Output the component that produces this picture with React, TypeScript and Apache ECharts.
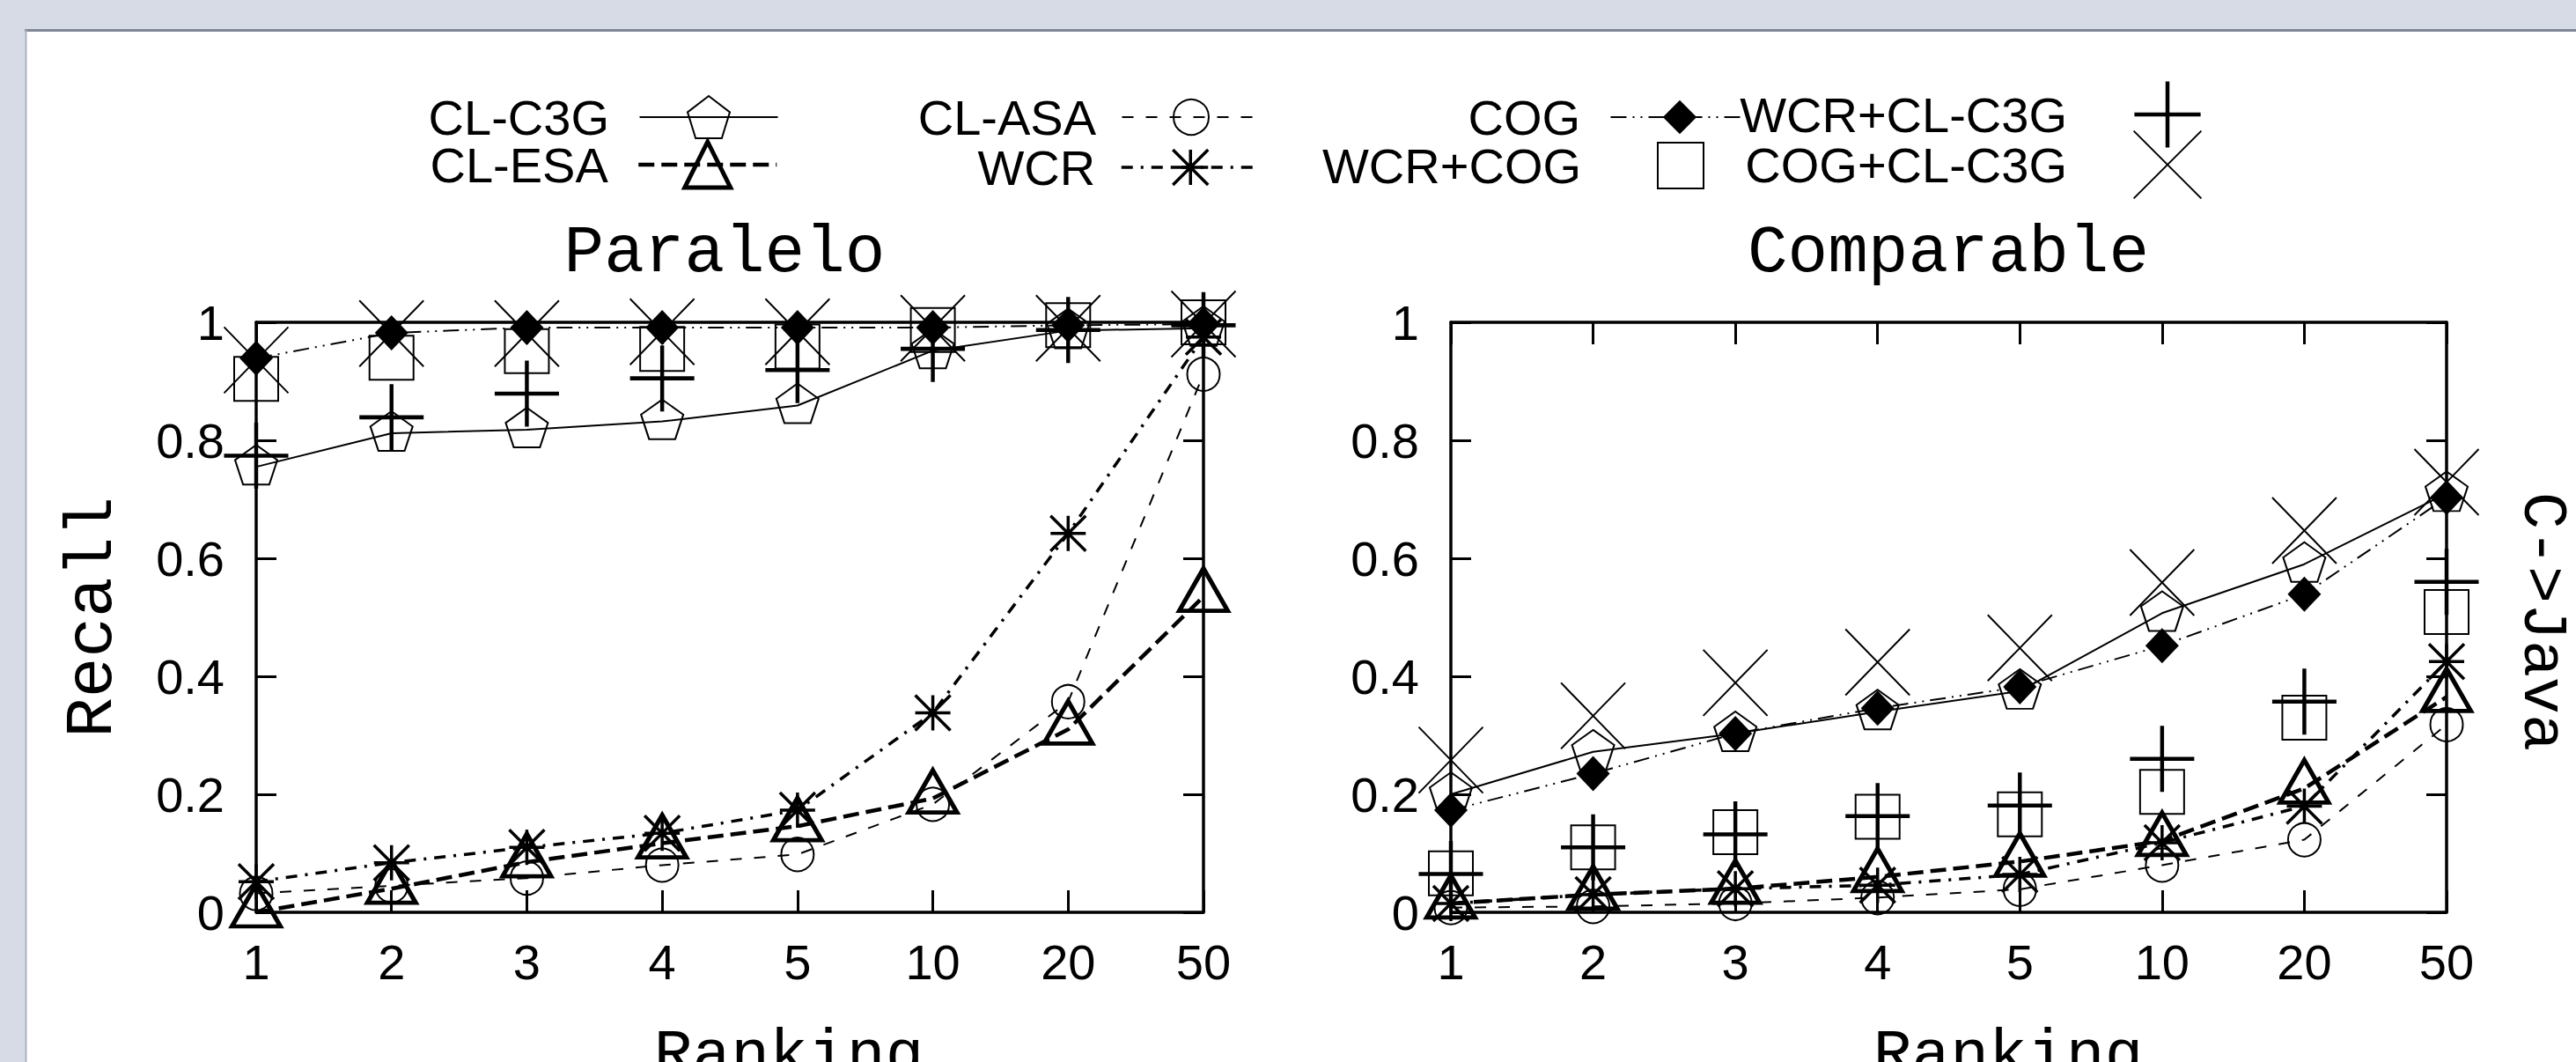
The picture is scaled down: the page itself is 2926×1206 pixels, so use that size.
import React, { useEffect, useRef } from "react";
import * as echarts from "echarts";

// ---------------- data ----------------
const categories = ["1", "2", "3", "4", "5", "10", "20", "50"];
const seriesNames = ["CL-C3G", "CL-ESA", "CL-ASA", "WCR", "COG", "WCR+COG", "WCR+CL-C3G", "COG+CL-C3G"];
const panelTitles = ["Paralelo", "Comparable"];
const xAxisTitle = "Ranking";
const yAxisTitle = "Recall";
const sideTitle = "C->Java";

// Paralelo
const paraleloCLC3G = [0.755, 0.812, 0.818, 0.832, 0.859, 0.952, 0.986, 0.99];
const paraleloCLESA = [0.0, 0.04, 0.085, 0.117, 0.146, 0.193, 0.31, 0.535];
const paraleloCLASA = [0.032, 0.045, 0.058, 0.08, 0.098, 0.183, 0.357, 0.912];
const paraleloWCR = [0.052, 0.084, 0.11, 0.134, 0.173, 0.338, 0.642, 0.975];
const paraleloCOG = [0.939, 0.982, 0.991, 0.991, 0.991, 0.991, 0.995, 0.997];
const paraleloWCRCOG = [0.904, 0.94, 0.951, 0.955, 0.959, 0.987, 0.995, 1.0];
const paraleloWCRCLC3G = [0.774, 0.839, 0.879, 0.905, 0.919, 0.955, 0.987, 0.995];
const paraleloCOGCLC3G = [0.936, 0.981, 0.981, 0.984, 0.984, 0.99, 0.99, 0.997];

// Comparable
const comparableCLC3G = [0.2, 0.272, 0.303, 0.34, 0.375, 0.507, 0.59, 0.71];
const comparableCLESA = [0.015, 0.03, 0.04, 0.06, 0.086, 0.121, 0.21, 0.365];
const comparableCLASA = [0.008, 0.01, 0.015, 0.025, 0.039, 0.08, 0.123, 0.318];
const comparableWCR = [0.015, 0.03, 0.04, 0.046, 0.064, 0.118, 0.18, 0.425];
const comparableCOG = [0.173, 0.235, 0.303, 0.346, 0.382, 0.452, 0.539, 0.703];
const comparableWCRCOG = [0.066, 0.11, 0.136, 0.162, 0.166, 0.204, 0.33, 0.509];
const comparableWCRCLC3G = [0.065, 0.11, 0.132, 0.163, 0.181, 0.26, 0.357, 0.56];
const comparableCOGCLC3G = [0.258, 0.333, 0.389, 0.424, 0.448, 0.559, 0.647, 0.729];

const paraleloValues = [paraleloCLC3G, paraleloCLESA, paraleloCLASA, paraleloWCR, paraleloCOG, paraleloWCRCOG, paraleloWCRCLC3G, paraleloCOGCLC3G];
const comparableValues = [comparableCLC3G, comparableCLESA, comparableCLASA, comparableWCR, comparableCOG, comparableWCRCOG, comparableWCRCLC3G, comparableCOGCLC3G];

// ---------------- styles / layout ----------------
const W = 2926;
const H = 1206;
const SANS = "'Liberation Sans', Arial, Helvetica, sans-serif";
const MONO = "'Liberation Mono', 'Courier New', monospace";
const CLEAR = "rgba(0,0,0,0)";

const PENTAGON = "path://M0,-100L95.1,-30.9L58.8,80.9L-58.8,80.9L-95.1,-30.9Z";
const TRIANGLE = "path://M0,-200L173,100L-173,100Z";
const PLUS = "path://M0,-1L0,1M-1,0L1,0";
const CROSS = "path://M-1,-1L1,1M-1,1L1,-1";
const STAR = "path://M0,-1L0,1M-1,0L1,0M-1,-1L1,1M-1,1L1,-1";

type Sty = {
  symbol: string;
  size: number[];
  offset: number[];
  fill: string;
  bw: number;
  lw: number;
  dash: any;
  legendH: number;
};

const styles: Sty[] = [
  { symbol: PENTAGON, size: [48, 45], offset: [0, -2.4], fill: CLEAR, bw: 2, lw: 2, dash: "solid", legendH: 60 },
  { symbol: TRIANGLE, size: [55, 48], offset: [0, -8], fill: CLEAR, bw: 5, lw: 4.5, dash: [18, 8], legendH: 65 },
  { symbol: "circle", size: [37, 38], offset: [0, 0], fill: CLEAR, bw: 2, lw: 2, dash: [13, 14], legendH: 50 },
  { symbol: STAR, size: [40, 40], offset: [0, 0], fill: CLEAR, bw: 3.5, lw: 3.5, dash: [13, 9, 3, 9], legendH: 50 },
  { symbol: "diamond", size: [38, 40], offset: [0, 0], fill: "#000", bw: 0, lw: 2, dash: [18, 7, 2, 7, 2, 7], legendH: 48 },
  { symbol: "rect", size: [50, 50], offset: [0, 0], fill: CLEAR, bw: 2, lw: 0, dash: "solid", legendH: 65 },
  { symbol: PLUS, size: [73, 75], offset: [0, 0], fill: CLEAR, bw: 4.5, lw: 0, dash: "solid", legendH: 94 },
  { symbol: CROSS, size: [73, 75], offset: [0, 0], fill: CLEAR, bw: 2, lw: 0, dash: "solid", legendH: 96 },
];

const legendCols = [
  { textEnd: 693, markerX: 806 },
  { textEnd: 1246, markerX: 1354 },
  { textEnd: 1796, markerX: 1909 },
  { textEnd: 2348, markerX: 2462 },
];
const legendRows = [130, 187];
const legendSlot = [[0, 0], [0, 1], [1, 0], [1, 1], [2, 0], [2, 1], [3, 0], [3, 1]];
const SAMPLE_W = 157;
const FONT = 56;
const LEGEND_LH = 50;

const grids = [
  { left: 291, top: 366, width: 1076, height: 670 },
  { left: 1648, top: 366, width: 1131, height: 670 },
];

function buildOption() {
  const xAxis: any[] = [];
  const yAxis: any[] = [];
  const axisLine = { show: true, onZero: false, lineStyle: { color: "#000", width: 3.5 } };
  grids.forEach((g, gi) => {
    ["bottom", "top"].forEach((pos) => {
      xAxis.push({
        type: "category",
        gridIndex: gi,
        data: categories,
        boundaryGap: false,
        position: pos,
        axisLine,
        axisTick: { show: true, inside: true, length: 25, interval: 0, lineStyle: { color: "#000", width: 3 } },
        axisLabel: { show: pos === "bottom", interval: 0, margin: 28, fontSize: FONT, fontFamily: SANS, color: "#000" },
        splitLine: { show: false },
      });
    });
    ["left", "right"].forEach((pos) => {
      yAxis.push({
        type: "value",
        gridIndex: gi,
        min: 0,
        max: 1,
        interval: 0.2,
        position: pos,
        axisLine,
        axisTick: { show: true, inside: true, length: 23, lineStyle: { color: "#000", width: 3 } },
        axisLabel: { show: pos === "left", margin: 36, fontSize: FONT, fontFamily: SANS, color: "#000" },
        splitLine: { show: false },
      });
    });
  });

  const series: any[] = [];
  [paraleloValues, comparableValues].forEach((vals, gi) => {
    seriesNames.forEach((name, si) => {
      const st = styles[si];
      series.push({
        type: "line",
        name,
        xAxisIndex: gi * 2,
        yAxisIndex: gi * 2,
        data: vals[si],
        symbol: st.symbol,
        symbolSize: st.size,
        symbolOffset: st.offset,
        showSymbol: true,
        showAllSymbol: true,
        clip: false,
        silent: true,
        z: 2 + si,
        itemStyle: { color: st.fill, borderColor: "#000", borderWidth: st.bw },
        lineStyle:
          st.lw > 0
            ? { color: "#000", width: st.lw, type: st.dash, cap: "butt" }
            : { color: "#000", width: 0, opacity: 0 },
        emphasis: { disabled: true },
      });
    });
  });

  const legend: any[] = seriesNames.map((name, si) => {
    const st = styles[si];
    const [c, r] = legendSlot[si];
    const col = legendCols[c];
    const rowY = legendRows[r];
    const h = st.legendH;
    const pad = col.markerX - SAMPLE_W / 2 - 5 - col.textEnd;
    // top of the item's visible content, relative to the item box
    const contentTop = Math.min(h / 2 - LEGEND_LH / 2, 0.1 * h - st.bw / 2);
    return {
      show: true,
      selectedMode: false,
      orient: "horizontal",
      align: "right",
      padding: 0,
      itemGap: 0,
      right: W - (col.markerX + SAMPLE_W / 2),
      top: rowY - h / 2 + contentTop,
      itemWidth: SAMPLE_W,
      itemHeight: h,
      data: [name],
      textStyle: {
        fontSize: FONT,
        fontFamily: SANS,
        color: "#000",
        lineHeight: LEGEND_LH,
        padding: [0, pad, 0, 0],
      },
      itemStyle: { color: st.fill, borderColor: "#000", borderWidth: st.bw },
      lineStyle:
        st.lw > 0
          ? { color: "#000", width: st.lw, type: st.dash, cap: "butt" }
          : { color: "#000", width: 0, opacity: 0 },
    };
  });

  const txt = (text: string, x: number, y: number, size: number, rotation = 0) => ({
    type: "text",
    x,
    y,
    rotation,
    silent: true,
    style: {
      text,
      fill: "#000",
      fontSize: size,
      fontFamily: MONO,
      align: "center",
      verticalAlign: "middle",
      textAlign: "center",
      textVerticalAlign: "middle",
    },
  });

  const graphic: any[] = [
    { type: "rect", z: -10, silent: true, shape: { x: 30, y: 36, width: W - 30, height: H - 36 }, style: { fill: "#ffffff" } },
    { type: "line", z: -9, silent: true, shape: { x1: 28, y1: 34.5, x2: W, y2: 34.5 }, style: { stroke: "#7f8797", lineWidth: 3 } },
    { type: "line", z: -9, silent: true, shape: { x1: 29.5, y1: 34, x2: 29.5, y2: H }, style: { stroke: "#aab2c0", lineWidth: 2 } },
    txt(panelTitles[0], 823, 288, 76),
    txt(panelTitles[1], 2213, 288, 76),
    txt(yAxisTitle, 106, 701, 76, Math.PI / 2),
    txt(sideTitle, 2886, 706, 70, -Math.PI / 2),
    txt(xAxisTitle, 896, 1199, 73),
    txt(xAxisTitle, 2281, 1199, 73),
  ];

  return {
    animation: false,
    backgroundColor: "#d6dbe5",
    textStyle: { fontFamily: SANS },
    grid: grids.map((g) => ({ ...g, containLabel: false })),
    xAxis,
    yAxis,
    legend,
    series,
    graphic,
  };
}

export default function App() {
  const ref = useRef<HTMLDivElement>(null);
  useEffect(() => {
    if (!ref.current) return;
    const chart = echarts.init(ref.current, null, { renderer: "svg" });
    chart.setOption(buildOption() as any);
    return () => chart.dispose();
  }, []);
  return (
    <div
      ref={ref}
      style={{ position: "fixed", left: 0, top: 0, width: W + "px", height: H + "px" }}
    />
  );
}
